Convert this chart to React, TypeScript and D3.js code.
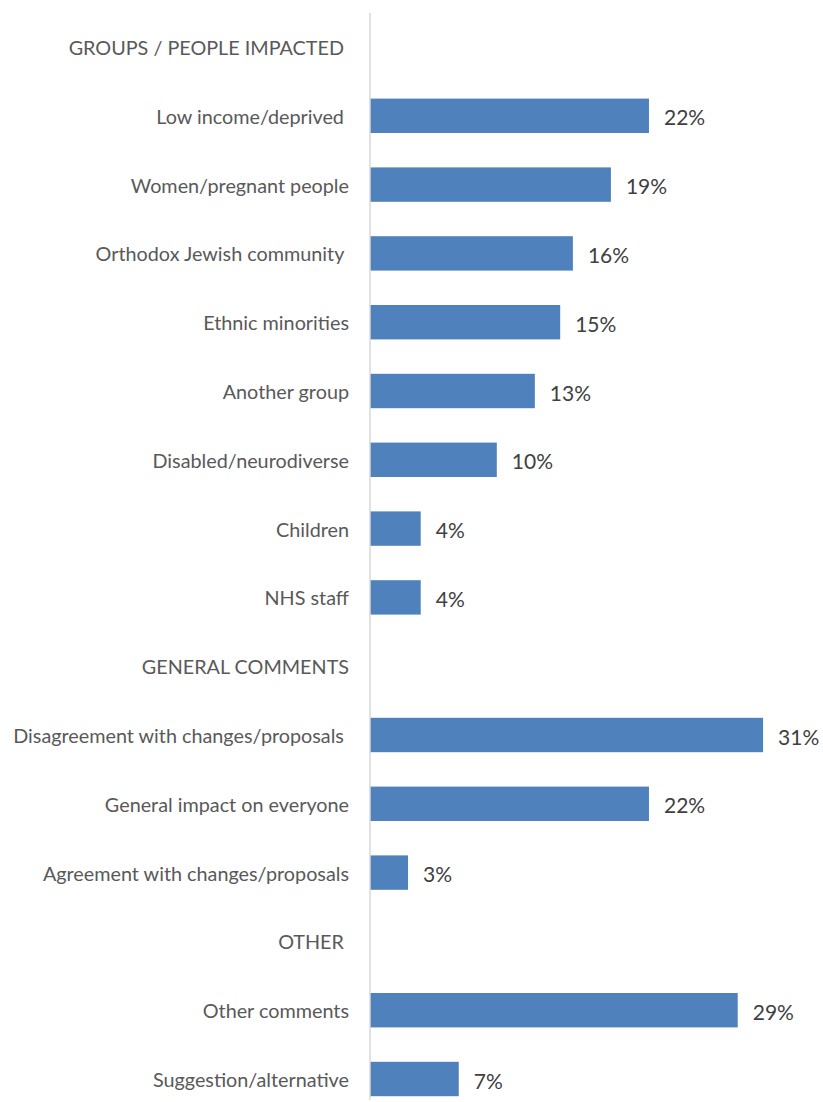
import React from "react";
import * as d3 from "d3";

const categories: string[] = [
  "GROUPS / PEOPLE IMPACTED ",
  "Low income/deprived ",
  "Women/pregnant people",
  "Orthodox Jewish community ",
  "Ethnic minorities",
  "Another group",
  "Disabled/neurodiverse",
  "Children",
  "NHS staff",
  "GENERAL COMMENTS",
  "Disagreement with changes/proposals ",
  "General impact on everyone",
  "Agreement with changes/proposals",
  "OTHER ",
  "Other comments",
  "Suggestion/alternative",
];

const values: (number | null)[] = [
  null, 22, 19, 16, 15, 13, 10, 4, 4, null, 31, 22, 3, null, 29, 7,
];

const W = 823;
const H = 1102;
const axisX = 370;

export default function App() {
  const x = d3.scaleLinear().domain([0, 10]).range([axisX, axisX + 126.8]);
  const y = d3
    .scaleBand<string>()
    .domain(categories)
    .range([12.6, 12.6 + 68.8 * categories.length])
    .paddingInner(0.5)
    .paddingOuter(0.25);
  const bw = y.bandwidth();
  const font = "Lato, 'Open Sans', sans-serif";
  return (
    <svg
      width={W}
      height={H}
      style={{ position: "absolute", left: 0, top: 0, display: "block" }}
    >
      <rect width={W} height={H} fill="#ffffff" />
      {categories.map((c, i) => {
        const v = values[i];
        const cy = (y(c) as number) + bw / 2;
        return (
          <g key={c}>
            <text
              x={349}
              y={cy}
              textAnchor="end"
              dominantBaseline="central"
              fontFamily={font}
              fontSize={19.8}
              fill="#595959"
              style={{ whiteSpace: "pre" }}
            >
              {c}
            </text>
            {v !== null && (
              <>
                <rect
                  x={x(0)}
                  y={y(c)}
                  width={x(v) - x(0)}
                  height={bw}
                  fill="#4f81bd"
                />
                <text
                  x={x(v) + 15}
                  y={cy + 1}
                  dominantBaseline="central"
                  fontFamily={font}
                  fontSize={21}
                  fill="#404040"
                >
                  {v + "%"}
                </text>
              </>
            )}
          </g>
        );
      })}
      <line x1={axisX} x2={axisX} y1={13} y2={1100} stroke="#d9d9d9" strokeWidth={1.5} />
    </svg>
  );
}
